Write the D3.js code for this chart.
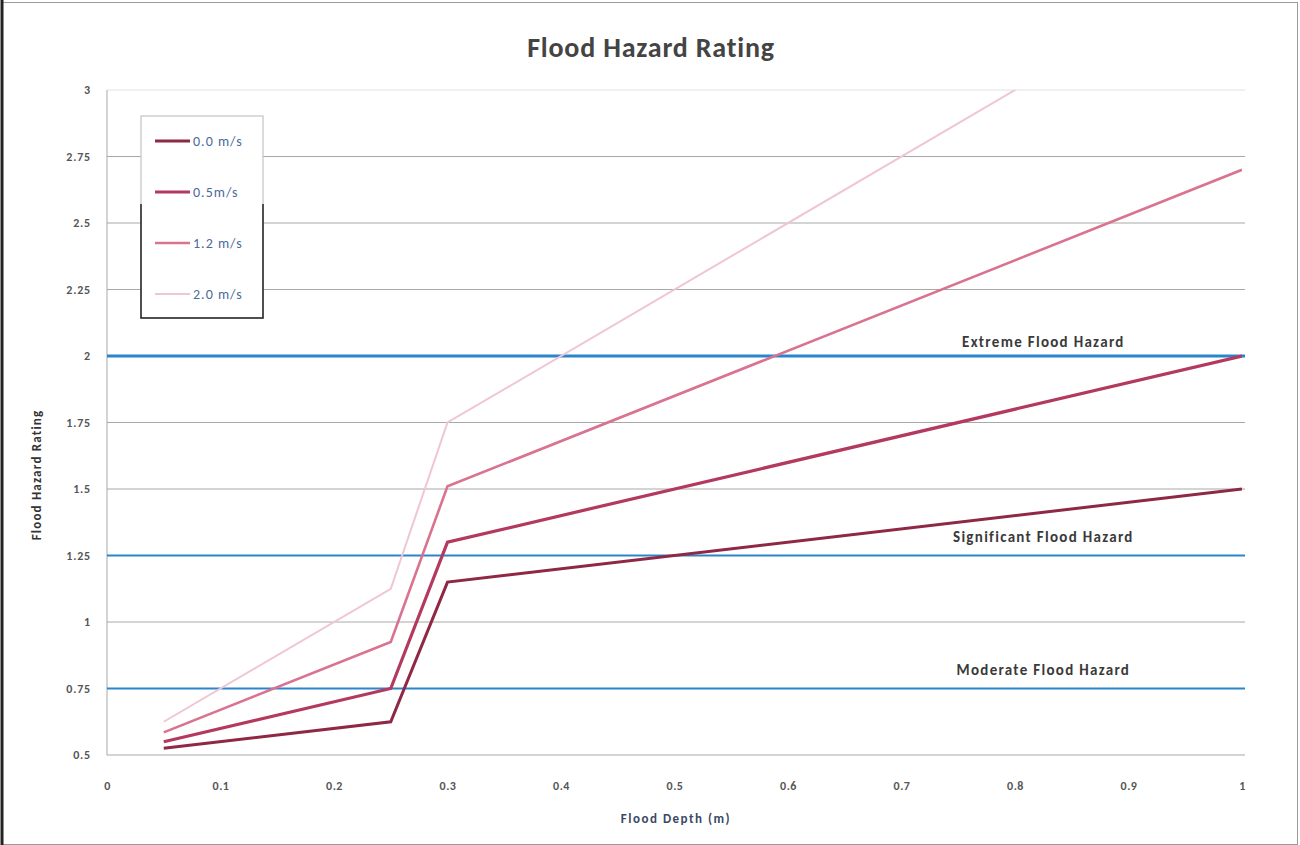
<!DOCTYPE html>
<html>
<head>
<meta charset="utf-8">
<script src="https://cdn.jsdelivr.net/npm/d3@7"></script>
<style>
  body { margin: 0; background: #fff; }
  text { font-family: Carlito, Lato, "Open Sans", sans-serif; }
</style>
</head>
<body>
<div id="chart"></div>
<script>
// flood depth (m) sample points
const depths = [0.05, 0.25, 0.3, 1.0];
const seriesNames = ['0.0 m/s', '0.5m/s', '1.2 m/s', '2.0 m/s'];
const rating00 = [0.525, 0.625, 1.15, 1.5];
const rating05 = [0.55, 0.75, 1.3, 2.0];
const rating12 = [0.585, 0.925, 1.51, 2.7];
const rating20 = [0.625, 1.125, 1.75, 3.5];
const hazardNames = ['Extreme Flood Hazard', 'Significant Flood Hazard', 'Moderate Flood Hazard'];
const hazardLevels = [2, 1.25, 0.75];
const xTicks = [0, 0.1, 0.2, 0.3, 0.4, 0.5, 0.6, 0.7, 0.8, 0.9, 1];
const yTicks = [0.5, 0.75, 1, 1.25, 1.5, 1.75, 2, 2.25, 2.5, 2.75, 3];

const W = 1300, H = 845;
const M = { top: 90, right: 58, bottom: 90, left: 107 };
const w = W - M.left - M.right, h = H - M.top - M.bottom;

const colors = ['#8e2844', '#b3395e', '#d9738f', '#efc6d1'];
const widths = [3, 3.2, 2.6, 2];

const svgRoot = d3.select('#chart').append('svg').attr('width', W).attr('height', H);

// page frame
svgRoot.append('rect').attr('x', 2.5).attr('y', 2.5).attr('width', W - 5).attr('height', H - 3)
  .attr('fill', 'none').attr('stroke', '#9a9a9a').attr('stroke-width', 1);
svgRoot.append('line').attr('x1', 2).attr('x2', 2).attr('y1', 0).attr('y2', H)
  .attr('stroke', '#222').attr('stroke-width', 3);

const svg = svgRoot.append('g').attr('transform', `translate(${M.left},${M.top})`);

const x = d3.scaleLinear().domain([0, 1]).range([0, w]);
const y = d3.scaleLinear().domain([0.5, 3]).range([h, 0]);

// gridlines
svg.append('g').selectAll('line').data(yTicks).enter().append('line')
  .attr('x1', 0).attr('x2', w + 3).attr('y1', d => y(d)).attr('y2', d => y(d))
  .attr('stroke', d => d === 3 ? '#e2e2e2' : '#a8a8a8').attr('stroke-width', 1);
svg.append('line').attr('x1', 0).attr('x2', 0).attr('y1', 0).attr('y2', h)
  .attr('stroke', '#a8a8a8');

// y axis labels
const yAxis = svg.append('g').call(d3.axisLeft(y).tickValues(yTicks).tickSize(0).tickPadding(16)
  .tickFormat(d => String(d)));
yAxis.select('.domain').remove();
yAxis.selectAll('text').attr('font-size', 12).attr('font-weight', 'bold').attr('fill', '#555')
  .attr('letter-spacing', 0.8);

// x axis labels
const xAxis = svg.append('g').attr('transform', `translate(0,${h})`)
  .call(d3.axisBottom(x).tickValues(xTicks).tickSize(0).tickPadding(26).tickFormat(d => String(d)));
xAxis.select('.domain').remove();
xAxis.selectAll('text').attr('font-size', 12).attr('font-weight', 'bold').attr('fill', '#555')
  .attr('letter-spacing', 0.5);

// hazard thresholds
hazardLevels.forEach((lv, i) => {
  svg.append('line').attr('x1', 0).attr('x2', w + 3).attr('y1', y(lv)).attr('y2', y(lv))
    .attr('stroke', '#2a85cc').attr('stroke-width', i === 0 ? 3 : 2);
  svg.append('text').attr('x', x(0.825)).attr('y', y(lv) - (i === 0 ? 9 : 14))
    .attr('text-anchor', 'middle').attr('font-size', 15).attr('font-weight', 'bold')
    .attr('letter-spacing', 1.3).attr('fill', '#3a3a3a').text(hazardNames[i]);
});

// series
svg.append('clipPath').attr('id', 'plot-clip').append('rect')
  .attr('x', 0).attr('y', 0).attr('width', w).attr('height', h);
const lineGen = d3.line().x(d => x(d[0])).y(d => y(d[1]));
[rating00, rating05, rating12, rating20].forEach((vals, i) => {
  svg.append('path').datum(depths.map((d, j) => [d, vals[j]]))
    .attr('clip-path', 'url(#plot-clip)')
    .attr('fill', 'none').attr('stroke', colors[i]).attr('stroke-width', widths[i])
    .attr('stroke-linejoin', 'miter').attr('d', lineGen);
});

// legend
const lg = svgRoot.append('g').attr('transform', 'translate(141,116)');
lg.append('rect').attr('width', 122).attr('height', 202).attr('fill', '#fff')
  .attr('stroke', '#c4c4c4').attr('stroke-width', 1.2);
lg.append('path').attr('d', 'M0,88 V202 H122 V88').attr('fill', 'none')
  .attr('stroke', '#222').attr('stroke-width', 1.5);
seriesNames.forEach((n, i) => {
  const yy = 25 + i * 51;
  lg.append('line').attr('x1', 14).attr('x2', 49).attr('y1', yy).attr('y2', yy)
    .attr('stroke', colors[i]).attr('stroke-width', widths[i]);
  lg.append('text').attr('x', 52).attr('y', yy + 5).attr('font-size', 14)
    .attr('letter-spacing', 1).attr('fill', '#4c6b9a').text(n);
});

// titles
svgRoot.append('text').attr('x', 651).attr('y', 57).attr('text-anchor', 'middle')
  .attr('font-size', 28).attr('font-weight', 'bold').attr('letter-spacing', 0.8)
  .attr('fill', '#444').text('Flood Hazard Rating');
svgRoot.append('text').attr('x', 676).attr('y', 823).attr('text-anchor', 'middle')
  .attr('font-size', 13).attr('font-weight', 'bold').attr('letter-spacing', 1.5)
  .attr('fill', '#3a4a66').text('Flood Depth (m)');
svgRoot.append('text').attr('transform', 'translate(41,475) rotate(-90)').attr('text-anchor', 'middle')
  .attr('font-size', 13).attr('font-weight', 'bold').attr('letter-spacing', 1.2)
  .attr('fill', '#333').text('Flood Hazard Rating');
</script>
</body>
</html>
